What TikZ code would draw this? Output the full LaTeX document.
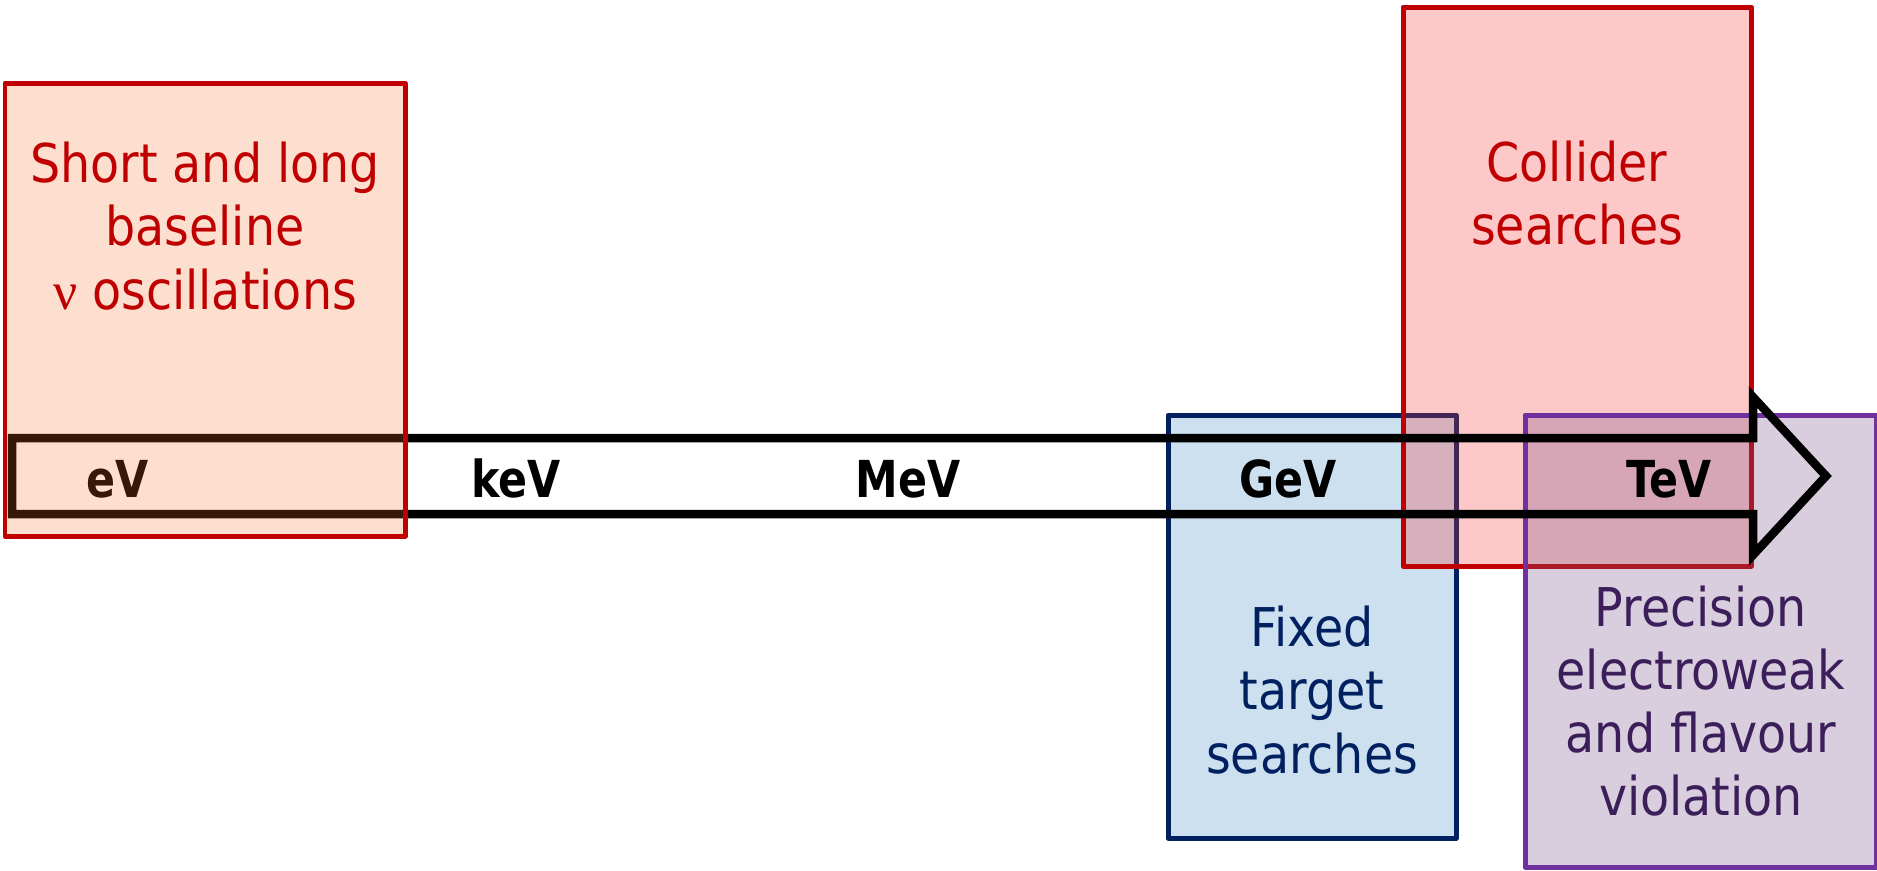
\documentclass[tikz,border=0pt]{standalone}
\usepackage{fontspec}
\usepackage{tikz}
\newfontfamily\tahomalike{DejaVu Sans}[FakeStretch=0.89]
\newfontfamily\tahomabold{DejaVu Sans Bold}[FakeStretch=0.84]
\newfontfamily\nufont{Liberation Serif}
\definecolor{oscred}{RGB}{192,0,0}
\definecolor{oscfill}{RGB}{244,110,44}
\definecolor{colfill}{RGB}{244,55,55}
\definecolor{fixfill}{RGB}{204,224,240}
\definecolor{fixline}{RGB}{0,32,96}
\definecolor{precfill}{RGB}{121,86,141}
\definecolor{precline}{RGB}{112,48,160}
\definecolor{prectext}{RGB}{60,30,90}
\tikzset{
  boxtext/.style={font=\tahomalike\fontsize{15.2}{18}\selectfont, align=center, inner sep=0pt},
  scalelabel/.style={font=\tahomabold\fontsize{14.5}{17}\selectfont, anchor=base, inner sep=0pt},
  areabox/.style={line width=0.5mm, line join=round},
}

\begin{document}
\begin{tikzpicture}[x=0.1mm,y=-0.1mm]
\useasboundingbox (0,0) rectangle (1877,870);

% Fixed target
\draw[areabox, fixline, fill=fixfill] (1168,415) rectangle (1456,838);
\node[boxtext, text=fixline] (fixed) at (1312,690) {Fixed\\target\\searches};

% Collider
\draw[areabox, oscred, fill=colfill, fill opacity=0.275] (1403,7) rectangle (1751,566);
\node[boxtext, text=oscred] (collider) at (1577,193) {Collider\\searches};

% Precision
\draw[areabox, precline, fill=precfill, fill opacity=0.29] (1525,415) rectangle (1876,867);
\node[boxtext, text=prectext] (precision) at (1701,701) {Precision\\electroweak\\and flavour\\violation};

% Energy scale arrow
\draw[line width=0.85mm] (12,438) -- (1753,438) -- (1753,397) -- (1826,476)
  -- (1753,555) -- (1753,514) -- (12,514) -- cycle;
\node[scalelabel] (ev) at (118,497) {eV};
\node[scalelabel] (kev) at (516,497) {keV};
\node[scalelabel] (mev) at (908,497) {MeV};
\node[scalelabel] (gev) at (1288,497) {GeV};
\node[scalelabel] (tev) at (1669,497) {TeV};

% Oscillations (on top)
\draw[areabox, oscred, fill=oscfill, fill opacity=0.225] (5,83) rectangle (405,536);
\node[boxtext, text=oscred] (osc) at (205,226) {Short and long\\baseline\\{\nufont ν} oscillations};

\end{tikzpicture}
\end{document}
